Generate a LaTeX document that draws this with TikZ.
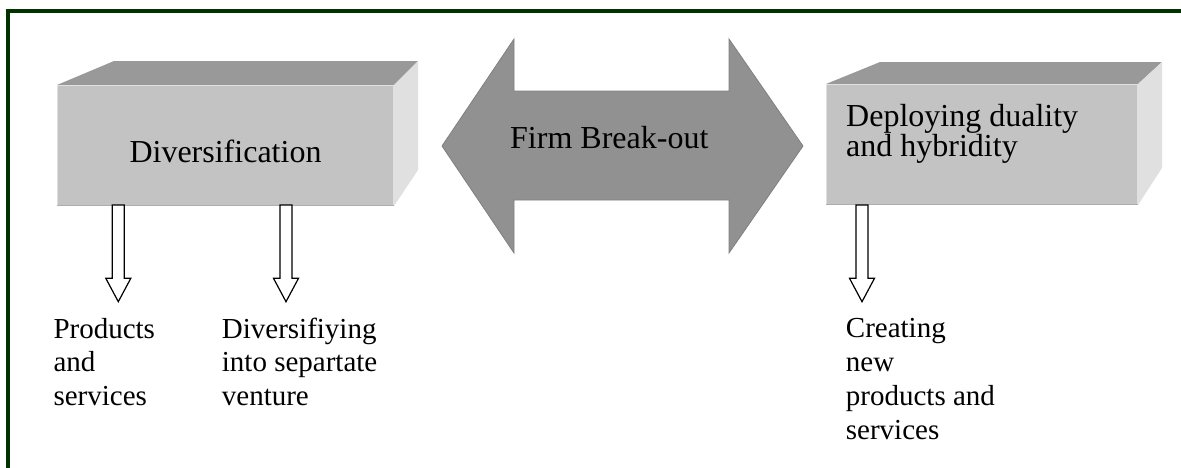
\documentclass[tikz,border=0pt]{standalone}
\usepackage{fontspec}
\setmainfont{Liberation Serif}
\begin{document}
\begin{tikzpicture}[x=1pt,y=-1pt,
  topface/.style={fill=black!40,draw=none},
  frontface/.style={fill=black!23.5,draw=none},
  sideface/.style={fill=black!12,draw=none},
  bigarrow/.style={fill=black!43,draw=black!50,line width=0.8pt,line join=miter},
  hollowarrow/.style={fill=white,draw=black,line width=1.2pt,line join=miter},
  boxtext/.style={inner sep=0pt,font=\fontsize{32}{29.5}\selectfont},
  labeltext/.style={inner sep=0pt,font=\fontsize{29}{33.4}\selectfont,align=left},
  frameline/.style={draw=green!20!black,line width=4pt}]
\useasboundingbox (0,0) rectangle (1181,467);

% partial frame: top and left rules only
\draw[frameline] (8,470) -- (8,11) -- (1184,11);

% left block: Diversification
\fill[topface] (57,85) -- (114,61) -- (418,61) -- (394,85) -- cycle;
\fill[sideface] (394,85) -- (418,61) -- (418,170) -- (394,206) -- cycle;
\fill[frontface] (57,85) rectangle (394,206);
\draw[black!12,line width=1pt] (57.5,205) -- (57.5,85.5) -- (393.5,85.5) -- (393.5,205);
\draw[black!32,line width=1.2pt] (57,205.4) -- (394,205.4);
\node[boxtext,anchor=base] (div) at (225.5,162.3) {Diversification};
\coordinate (divbox) at (225.5,206);

% right block: Deploying duality and hybridity
\fill[topface] (826,84) -- (880,62) -- (1162,62) -- (1138,84) -- cycle;
\fill[sideface] (1138,84) -- (1162,62) -- (1162,168) -- (1138,205) -- cycle;
\fill[frontface] (826,84) rectangle (1138,205);
\draw[black!12,line width=1pt] (826.5,204) -- (826.5,84.5) -- (1137.5,84.5) -- (1137.5,204);
\draw[black!32,line width=1.2pt] (826,204.4) -- (1138,204.4);
\node[boxtext,anchor=base west] (dep1) at (846,126.7) {Deploying duality};
\node[boxtext,anchor=base west] (dep2) at (846,156) {and hybridity};

% double-headed block arrow
\draw[bigarrow] (442,146) -- (514,39) -- (514,91) -- (729,91) -- (729,39)
  -- (803,146) -- (729,253) -- (729,200) -- (514,200) -- (514,253) -- cycle;
\node[boxtext,anchor=base west] (firm) at (510,148.3) {Firm Break-out};

% hollow down arrows from the blocks to their outcomes
\foreach \cx in {118.3,286,862}{
  \draw[hollowarrow] (\cx-6,205) -- (\cx+6,205) -- (\cx+6,278.3) -- (\cx+12.5,278.3)
    -- (\cx,301.7) -- (\cx-12.5,278.3) -- (\cx-6,278.3) -- cycle;
}

% outcome labels
\node[labeltext,anchor=base west] (l1a) at (53.3,338.3) {Products};
\node[labeltext,anchor=base west] (l1b) at (53.3,371.7) {and};
\node[labeltext,anchor=base west] (l1c) at (53.3,405) {services};

\node[labeltext,anchor=base west] (l2a) at (221.7,338.3) {Diversifiying};
\node[labeltext,anchor=base west] (l2b) at (221.7,371.7) {into separtate};
\node[labeltext,anchor=base west] (l2c) at (221.7,405) {venture};

\node[labeltext,anchor=base west] (l3a) at (845.7,337.7) {Creating};
\node[labeltext,anchor=base west] (l3b) at (845.7,371.7) {new};
\node[labeltext,anchor=base west] (l3c) at (845.7,405) {products and};
\node[labeltext,anchor=base west] (l3d) at (845.7,439) {services};
\end{tikzpicture}
\end{document}
